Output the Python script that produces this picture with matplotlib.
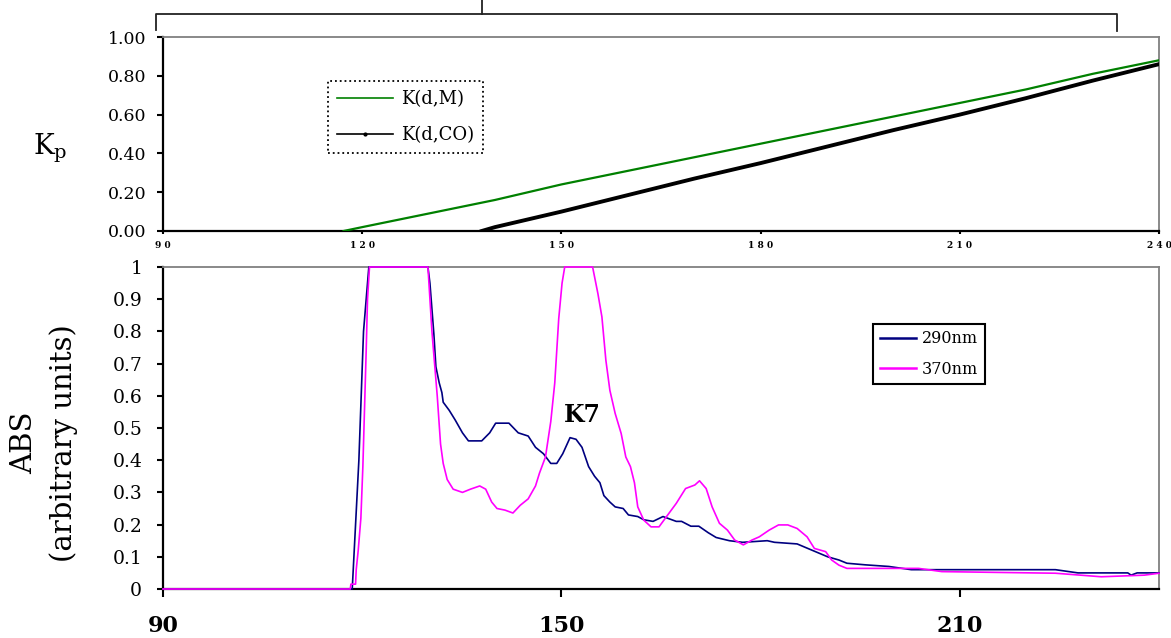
import numpy as np
import matplotlib
matplotlib.use("Agg")
import matplotlib.pyplot as plt
from matplotlib.lines import Line2D

# top panel: partition coefficients
kdm_x = [117.2, 120, 130, 140, 150, 160, 170, 180, 190, 200, 210, 220, 230, 240]
kdm_y = [0.00, 0.02, 0.09, 0.16, 0.24, 0.31, 0.38, 0.45, 0.52, 0.59, 0.66, 0.73, 0.81, 0.88]

kdco_x = [138, 140, 150, 160, 170, 180, 190, 200, 210, 220, 230, 240]
kdco_y = [0.00, 0.02, 0.10, 0.185, 0.27, 0.35, 0.435, 0.52, 0.60, 0.685, 0.775, 0.86]

# bottom panel: absorbance traces
abs290_x = [90, 113.4, 118.5, 119.5, 120.2, 121.0, 129.9, 130.2, 130.8, 131.1,
            131.6, 132.0, 132.2, 133.1, 134.0, 135.1, 136.0, 138.0, 139.2, 140.1,
            142.1, 143.5, 145.0, 146.1, 147.3, 148.4, 149.3, 150.2, 151.3, 152.2,
            153.1, 154.1, 155.0, 155.8, 156.4, 157.3, 158.1, 159.3, 160.1, 161.5,
            162.4, 163.8, 165.3, 167.3, 168.1, 169.5, 170.7, 172.1, 173.3, 175.3,
            177.3, 181.0, 182.1, 185.5, 187.8, 190.1, 191.8, 193.0, 195.8, 199.3,
            202.7, 224.4, 227.8, 235.3, 235.8, 236.7, 240]
abs290_y = [0, 0, 0, 0.40, 0.80, 1.0, 1.0, 0.95, 0.79, 0.69,
            0.64, 0.61, 0.58, 0.555, 0.525, 0.485, 0.46, 0.46, 0.485, 0.515,
            0.515, 0.485, 0.475, 0.44, 0.42, 0.39, 0.39, 0.42, 0.47, 0.465,
            0.44, 0.38, 0.35, 0.33, 0.29, 0.27, 0.255, 0.25, 0.23, 0.225,
            0.215, 0.21, 0.225, 0.21, 0.21, 0.195, 0.195, 0.175, 0.16, 0.15,
            0.145, 0.15, 0.145, 0.14, 0.12, 0.10, 0.09, 0.08, 0.075, 0.07,
            0.06, 0.06, 0.05, 0.05, 0.043, 0.05, 0.05]

abs370_x = [90, 118.2, 118.3, 119.0, 119.1, 119.4, 119.8, 120.1, 120.6, 120.8, 121.1,
            129.9, 130.5, 131.3, 131.8, 132.2, 132.8, 133.7, 135.1, 136.3, 137.7,
            138.6, 139.5, 140.3, 141.5, 142.7, 143.8, 145.0, 146.1, 146.7, 147.6,
            148.4, 149.0, 149.6, 150.1, 150.5, 154.7, 155.5, 156.1, 156.7, 157.3,
            158.1, 159.0, 159.7, 160.4, 161.0, 161.5, 162.4, 163.5, 164.7, 165.8,
            167.3, 168.7, 170.1, 170.8, 171.8, 172.7, 173.8, 175.0, 176.1, 177.4,
            178.7, 179.8, 181.3, 182.7, 184.1, 185.5, 187.0, 188.1, 189.8, 190.7,
            191.8, 193.0, 203.8, 207.3, 224.4, 231.3, 237.8, 240]
abs370_y = [0, 0, 0.015, 0.015, 0.06, 0.12, 0.22, 0.38, 0.74, 0.90, 1.0,
            1.0, 0.80, 0.60, 0.45, 0.39, 0.34, 0.31, 0.30, 0.31, 0.32,
            0.31, 0.27, 0.25, 0.245, 0.236, 0.26, 0.28, 0.32, 0.36, 0.41,
            0.52, 0.64, 0.84, 0.95, 1.0, 1.0, 0.917, 0.845, 0.71, 0.617,
            0.545, 0.483, 0.41, 0.38, 0.33, 0.255, 0.214, 0.193, 0.193, 0.224,
            0.266, 0.312, 0.323, 0.336, 0.312, 0.255, 0.204, 0.183, 0.152, 0.137,
            0.152, 0.162, 0.183, 0.199, 0.199, 0.188, 0.162, 0.126, 0.116, 0.09,
            0.074, 0.064, 0.064, 0.054, 0.049, 0.038, 0.043, 0.049]

top_xticks = [90, 120, 150, 180, 210, 240]
top_yticks = [0.0, 0.2, 0.4, 0.6, 0.8, 1.0]
bottom_xticks = [90, 150, 210]
bottom_yticks = [0, 0.1, 0.2, 0.3, 0.4, 0.5, 0.6, 0.7, 0.8, 0.9, 1]

plt.rcParams['font.family'] = ['DejaVu Serif']
plt.rcParams['mathtext.fontset'] = 'dejavuserif'

W, H = 1171, 638
fig = plt.figure(figsize=(W / 100, H / 100), dpi=100, facecolor='white')

def px_axes(left, top, right, bottom):
    # axes from pixel box
    return fig.add_axes([left / W, 1 - bottom / H, (right - left) / W, (bottom - top) / H])

ax_top = px_axes(163, 37, 1159, 231)
ax_bot = px_axes(163, 267, 1159, 589)

def style_axes(ax):
    for spine in ['left', 'bottom']:
        ax.spines[spine].set_color('black')
        ax.spines[spine].set_linewidth(1.6)
    for spine in ['top', 'right']:
        ax.spines[spine].set_color('#808080')
        ax.spines[spine].set_linewidth(1.3)
    ax.tick_params(axis='y', direction='out', length=4, width=1.5, color='black')

# top panel
ax_top.plot(kdm_x, kdm_y, color='#008000', lw=1.6, zorder=3)
ax_top.plot(kdco_x, kdco_y, color='black', lw=2.8, zorder=3)
ax_top.set_xlim(90, 240)
ax_top.set_ylim(0, 1)
style_axes(ax_top)
ax_top.set_yticks(top_yticks)
ax_top.set_yticklabels([f"{v:.2f}" for v in top_yticks], fontsize=12.5)
ax_top.tick_params(axis='y', pad=8)
ax_top.set_xticks(top_xticks)
ax_top.set_xticklabels([" ".join(str(v)) for v in top_xticks],
                       fontsize=6.5, fontweight='bold')
ax_top.tick_params(axis='x', direction='out', length=2, width=1.5, pad=5)

top_handles = [
    Line2D([], [], color='#008000', lw=1.2, label='K(d,M)'),
    Line2D([], [], color='black', lw=1.2, marker='.', markersize=4, label='K(d,CO)'),
]
leg_top = ax_top.legend(handles=top_handles, loc='upper left',
                        bbox_to_anchor=(0.166, 0.773), borderaxespad=0,
                        fontsize=13, handlelength=3.1, handletextpad=0.4,
                        borderpad=0.5, labelspacing=1.0, numpoints=1,
                        fancybox=False, framealpha=1)
leg_top.get_frame().set_edgecolor('black')
leg_top.get_frame().set_linestyle(':')
leg_top.get_frame().set_linewidth(1.3)

fig.text(50 / W, 1 - 148 / H, r'$\mathrm{K_p}$', fontsize=20, ha='center', va='center')

# bottom panel
ax_bot.plot(abs290_x, abs290_y, color='#000080', lw=1.2, zorder=3, clip_on=False)
ax_bot.plot(abs370_x, abs370_y, color='#FF00FF', lw=1.2, zorder=3, clip_on=False)
ax_bot.set_xlim(90, 240)
ax_bot.set_ylim(0, 1)
style_axes(ax_bot)
ax_bot.set_yticks(bottom_yticks)
ax_bot.set_yticklabels([f"{v:g}" for v in bottom_yticks], fontsize=13.5)
ax_bot.tick_params(axis='y', pad=11)
ax_bot.set_xticks(bottom_xticks)
ax_bot.set_xticklabels([str(v) for v in bottom_xticks], fontsize=16, fontweight='bold')
ax_bot.tick_params(axis='x', direction='out', length=6, width=1.5, pad=13)

ax_bot.text(153.2, 0.54, 'K7', fontsize=17, fontweight='bold', ha='center', va='center')

leg_bot = ax_bot.legend(loc='upper left', labels=['290nm', '370nm'],
                        handles=[Line2D([], [], color='#000080', lw=1.8),
                                 Line2D([], [], color='#FF00FF', lw=1.8)],
                        bbox_to_anchor=(0.713, 0.823), borderaxespad=0,
                        fontsize=11.5, handlelength=2.3, handletextpad=0.35,
                        borderpad=0.4, labelspacing=0.85,
                        fancybox=False, framealpha=1)
leg_bot.get_frame().set_edgecolor('black')
leg_bot.get_frame().set_linewidth(1.5)

fig.text(24 / W, 1 - 443 / H, 'ABS', fontsize=21, rotation=90, ha='center', va='center')
fig.text(64 / W, 1 - 443 / H, '(arbitrary units)', fontsize=21, rotation=90,
         ha='center', va='center')

# bracket above the top panel
bracket_color = '#222222'
for xs, ys in [([156, 156, 1117, 1117], [30, 14, 14, 31]), ([482, 482], [14, 0])]:
    fig.add_artist(Line2D([x / W for x in xs], [1 - y / H for y in ys],
                          color=bracket_color, lw=1.3, transform=fig.transFigure))

fig.savefig('out.png', dpi=100, facecolor='white')
